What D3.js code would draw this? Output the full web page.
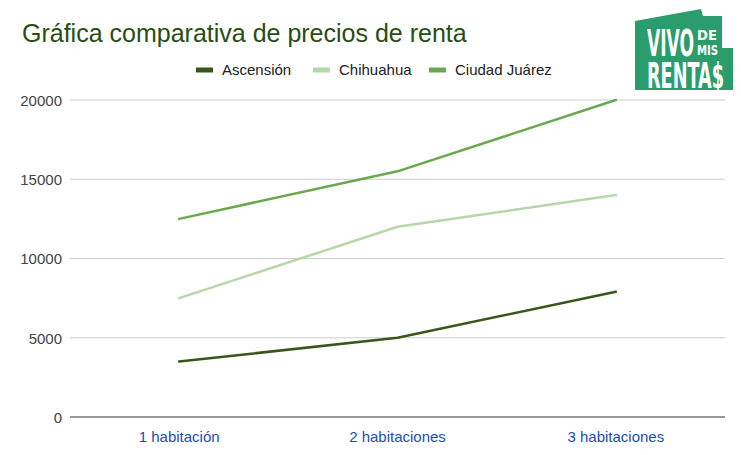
<!DOCTYPE html>
<html><head><meta charset="utf-8">
<script src="https://cdn.jsdelivr.net/npm/d3@7"></script>
<style>body{margin:0;background:#fff}svg{display:block}</style>
</head><body>
<svg id="c" width="741" height="455"></svg>
<script>
const categories = ["1 habitación", "2 habitaciones", "3 habitaciones"];
const seriesNames = ["Ascensión", "Chihuahua", "Ciudad Juárez"];
const ascension = [3500, 5000, 7900];
const chihuahua = [7500, 12000, 14000];
const ciudadJuarez = [12500, 15500, 20000];
const yTicks = [0, 5000, 10000, 15000, 20000];
const colors = ["#38571a", "#b6d7a8", "#6aa84f"];
const title = "Gráfica comparativa de precios de renta";

const series = [ascension, chihuahua, ciudadJuarez].map((v, i) => ({name: seriesNames[i], values: v, color: colors[i]}));

const svg = d3.select("#c");
const font = "Arial, 'Liberation Sans', sans-serif";
const m = {left: 70, right: 725, top: 100, bottom: 417};

const x = d3.scaleBand().domain(categories).range([m.left, m.right]);
const y = d3.scaleLinear().domain([0, 20000]).range([m.bottom, m.top]);

// grid
svg.append("g").selectAll("line").data(yTicks.filter(d => d > 0)).join("line")
  .attr("x1", m.left).attr("x2", m.right)
  .attr("y1", d => y(d)).attr("y2", d => y(d))
  .attr("stroke", "#cccccc").attr("stroke-width", 1);

// y axis labels
const yAxis = d3.axisLeft(y).tickValues(yTicks).tickSize(0).tickPadding(8).tickFormat(d3.format("d"));
const ya = svg.append("g").attr("transform", `translate(${m.left},0)`).call(yAxis);
ya.select(".domain").remove();
ya.selectAll("text").attr("font-family", font).attr("font-size", 15).attr("fill", "#444").attr("dy", "0.35em");

// baseline
svg.append("line").attr("x1", m.left).attr("x2", m.right)
  .attr("y1", y(0)).attr("y2", y(0)).attr("stroke", "#333").attr("stroke-width", 1.2);

// x axis labels
const xAxis = d3.axisBottom(x).tickSize(0).tickPadding(14);
const xa = svg.append("g").attr("transform", `translate(0,${m.bottom})`).call(xAxis);
xa.select(".domain").remove();
xa.selectAll("text").attr("font-family", font).attr("font-size", 15).attr("fill", "#1c4fb0");

// lines
const line = d3.line().x((d, i) => x(categories[i]) + x.bandwidth() / 2).y(d => y(d));
svg.append("g").selectAll("path").data(series).join("path")
  .attr("d", d => line(d.values))
  .attr("fill", "none").attr("stroke", d => d.color).attr("stroke-width", 2.5)
  .attr("stroke-linejoin", "round").attr("stroke-linecap", "round");

// title
svg.append("text").attr("x", 22).attr("y", 42).text(title)
  .attr("font-family", font).attr("font-size", 25).attr("fill", "#274e13");

// legend
const legX = [196, 313, 429];
const lg = svg.append("g").selectAll("g").data(series).join("g")
  .attr("transform", (d, i) => `translate(${legX[i]},70)`);
lg.append("rect").attr("x", 0).attr("y", -2.5).attr("width", 17).attr("height", 5).attr("fill", d => d.color);
lg.append("text").attr("x", 26).attr("y", 0).attr("dy", "0.35em").text(d => d.name)
  .attr("font-family", font).attr("font-size", 15).attr("fill", "#222");

// logo
const logo = svg.append("g");
logo.append("polygon")
  .attr("points", "635,21 701,9 703,16 722,16 722,48 733,48 733,90 635,90")
  .attr("fill", "#2b9c6c");
const lf = "'Liberation Sans Narrow', 'DejaVu Sans Condensed', Arial, sans-serif";
// fit text to a box: width len, cap height cap, baseline at y0
function logoText(t, x0, y0, len, cap) {
  const base = 20;
  const el = logo.append("text").text(t)
    .attr("font-family", lf).attr("font-weight", "bold").attr("font-size", base).attr("fill", "#fff");
  const w = el.node().getComputedTextLength();
  const sx = len / w, sy = cap / (0.716 * base);
  el.attr("transform", `translate(${x0},${y0}) scale(${sx},${sy})`);
}
logoText("VIVO", 647, 56, 47, 27);
logoText("DE", 697, 39.5, 20, 10);
logoText("MIS", 697, 55.2, 21, 10);
logoText("RENTA$", 647, 88, 77, 25);
</script>
</body></html>
